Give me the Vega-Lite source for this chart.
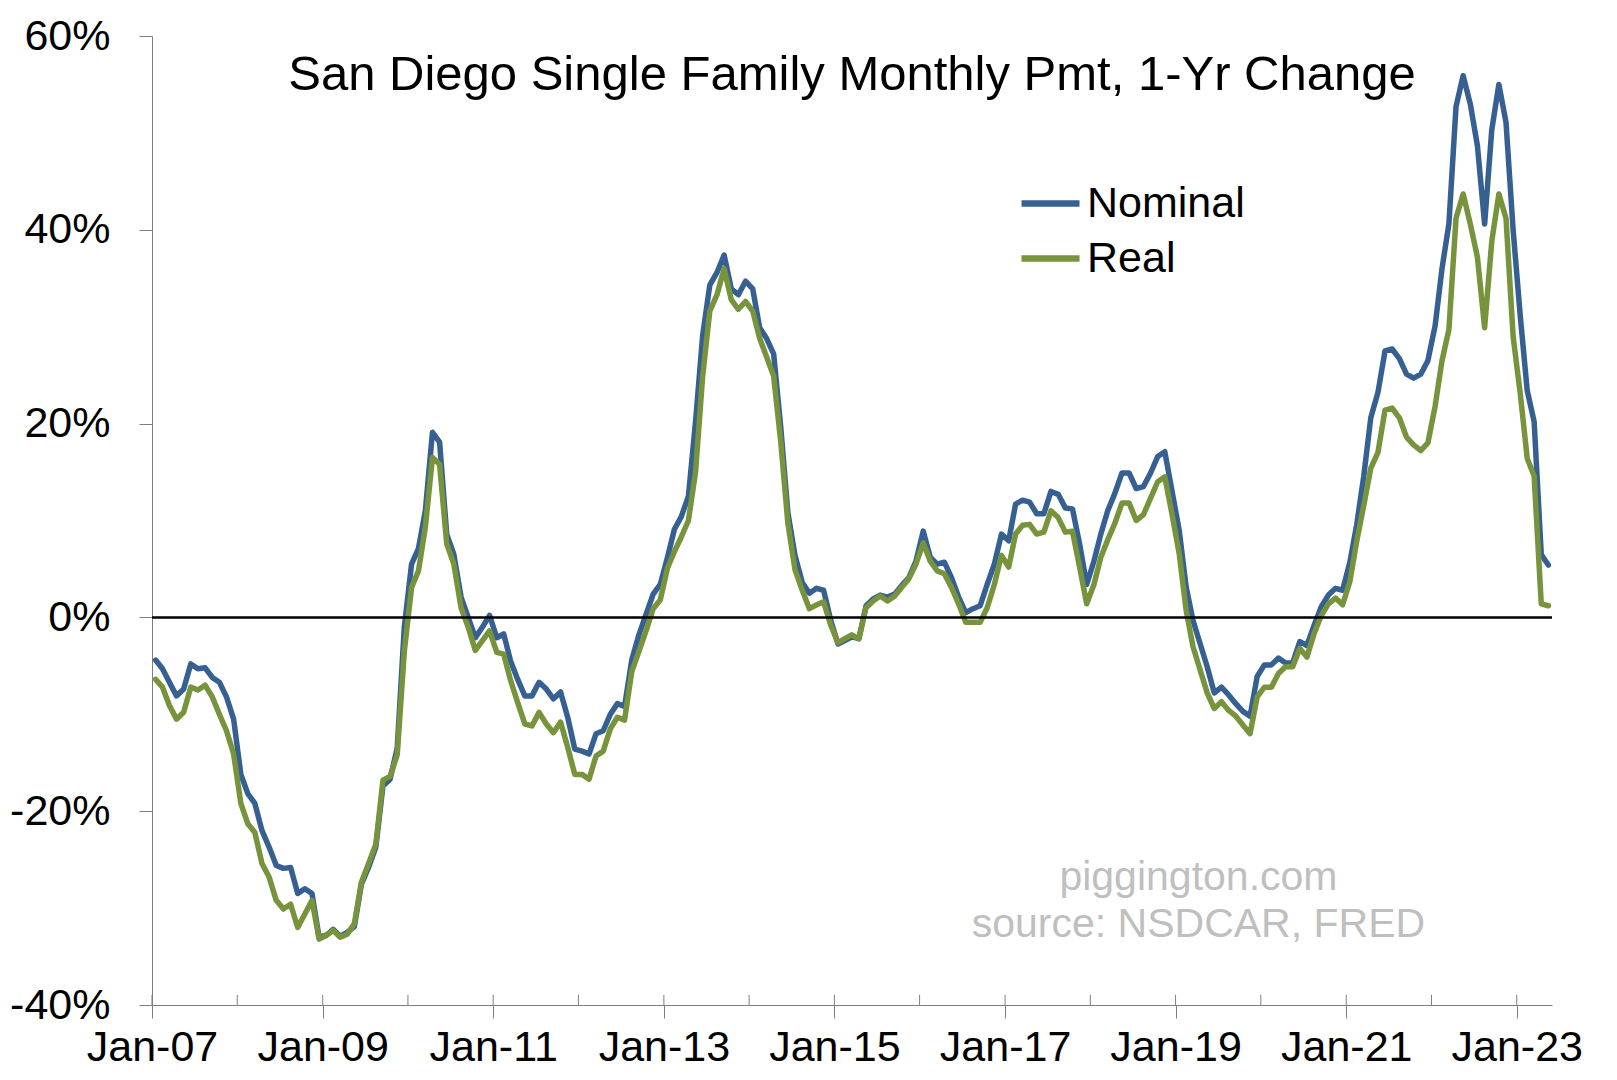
{
  "$schema": "https://vega.github.io/schema/vega-lite/v6.json",
  "width": 1400,
  "height": 969,
  "autosize": {"type": "none"},
  "padding": {"left": 152, "top": 36, "right": 65, "bottom": 75},
  "background": "white",
  "config": {"view": {"stroke": null}, "font": "Liberation Sans"},
  "title": {
    "text": "San Diego Single Family Monthly Pmt, 1-Yr Change",
    "font": "Liberation Sans",
    "fontSize": 49,
    "fontWeight": "normal",
    "color": "black",
    "anchor": "middle",
    "baseline": "alphabetic",
    "offset": -124
  },
  "datasets": {
    "pmt": [
      {"date":"2007-01","Nominal":-4.4,"Real":-6.4},{"date":"2007-02","Nominal":-5.3,"Real":-7.2},{"date":"2007-03","Nominal":-6.7,"Real":-9.1},{"date":"2007-04","Nominal":-8.1,"Real":-10.5},{"date":"2007-05","Nominal":-7.4,"Real":-9.8},{"date":"2007-06","Nominal":-4.8,"Real":-7.2},{"date":"2007-07","Nominal":-5.3,"Real":-7.5},{"date":"2007-08","Nominal":-5.2,"Real":-7.0},{"date":"2007-09","Nominal":-6.2,"Real":-8.2},{"date":"2007-10","Nominal":-6.7,"Real":-10.0},{"date":"2007-11","Nominal":-8.2,"Real":-11.7},{"date":"2007-12","Nominal":-10.5,"Real":-14.1},
      {"date":"2008-01","Nominal":-16.2,"Real":-19.2},{"date":"2008-02","Nominal":-18.2,"Real":-21.3},{"date":"2008-03","Nominal":-19.2,"Real":-22.2},{"date":"2008-04","Nominal":-22.0,"Real":-25.4},{"date":"2008-05","Nominal":-23.7,"Real":-26.8},{"date":"2008-06","Nominal":-25.6,"Real":-29.2},{"date":"2008-07","Nominal":-25.9,"Real":-30.1},{"date":"2008-08","Nominal":-25.8,"Real":-29.6},{"date":"2008-09","Nominal":-28.5,"Real":-32.0},{"date":"2008-10","Nominal":-28.0,"Real":-30.6},{"date":"2008-11","Nominal":-28.5,"Real":-29.2},{"date":"2008-12","Nominal":-33.0,"Real":-33.2},
      {"date":"2009-01","Nominal":-32.8,"Real":-32.8},{"date":"2009-02","Nominal":-32.2,"Real":-32.3},{"date":"2009-03","Nominal":-32.9,"Real":-33.0},{"date":"2009-04","Nominal":-32.5,"Real":-32.7},{"date":"2009-05","Nominal":-31.9,"Real":-31.6},{"date":"2009-06","Nominal":-27.5,"Real":-27.3},{"date":"2009-07","Nominal":-25.8,"Real":-25.4},{"date":"2009-08","Nominal":-23.7,"Real":-23.4},{"date":"2009-09","Nominal":-17.4,"Real":-16.8},{"date":"2009-10","Nominal":-16.7,"Real":-16.4},{"date":"2009-11","Nominal":-13.5,"Real":-14.2},{"date":"2009-12","Nominal":-1.0,"Real":-3.5},
      {"date":"2010-01","Nominal":5.5,"Real":3.1},{"date":"2010-02","Nominal":7.1,"Real":4.8},{"date":"2010-03","Nominal":11.0,"Real":9.3},{"date":"2010-04","Nominal":19.1,"Real":16.5},{"date":"2010-05","Nominal":18.1,"Real":15.8},{"date":"2010-06","Nominal":8.6,"Real":7.6},{"date":"2010-07","Nominal":6.5,"Real":5.5},{"date":"2010-08","Nominal":2.1,"Real":1.0},{"date":"2010-09","Nominal":0.0,"Real":-1.0},{"date":"2010-10","Nominal":-2.1,"Real":-3.4},{"date":"2010-11","Nominal":-1.0,"Real":-2.4},{"date":"2010-12","Nominal":0.2,"Real":-1.4},
      {"date":"2011-01","Nominal":-2.1,"Real":-3.6},{"date":"2011-02","Nominal":-1.7,"Real":-3.8},{"date":"2011-03","Nominal":-4.5,"Real":-6.5},{"date":"2011-04","Nominal":-6.4,"Real":-8.8},{"date":"2011-05","Nominal":-8.1,"Real":-11.0},{"date":"2011-06","Nominal":-8.1,"Real":-11.2},{"date":"2011-07","Nominal":-6.7,"Real":-9.8},{"date":"2011-08","Nominal":-7.4,"Real":-11.0},{"date":"2011-09","Nominal":-8.4,"Real":-11.9},{"date":"2011-10","Nominal":-7.7,"Real":-10.8},{"date":"2011-11","Nominal":-10.3,"Real":-13.4},{"date":"2011-12","Nominal":-13.6,"Real":-16.2},
      {"date":"2012-01","Nominal":-13.8,"Real":-16.2},{"date":"2012-02","Nominal":-14.1,"Real":-16.7},{"date":"2012-03","Nominal":-12.0,"Real":-14.3},{"date":"2012-04","Nominal":-11.7,"Real":-13.8},{"date":"2012-05","Nominal":-10.0,"Real":-11.5},{"date":"2012-06","Nominal":-8.9,"Real":-10.3},{"date":"2012-07","Nominal":-9.2,"Real":-10.6},{"date":"2012-08","Nominal":-4.4,"Real":-5.6},{"date":"2012-09","Nominal":-1.8,"Real":-3.5},{"date":"2012-10","Nominal":0.3,"Real":-1.4},{"date":"2012-11","Nominal":2.4,"Real":0.9},{"date":"2012-12","Nominal":3.4,"Real":1.8},
      {"date":"2013-01","Nominal":6.2,"Real":5.1},{"date":"2013-02","Nominal":9.1,"Real":6.8},{"date":"2013-03","Nominal":10.4,"Real":8.3},{"date":"2013-04","Nominal":12.5,"Real":10.0},{"date":"2013-05","Nominal":20.2,"Real":15.0},{"date":"2013-06","Nominal":29.1,"Real":24.9},{"date":"2013-07","Nominal":34.3,"Real":31.6},{"date":"2013-08","Nominal":35.6,"Real":33.3},{"date":"2013-09","Nominal":37.4,"Real":36.0},{"date":"2013-10","Nominal":33.9,"Real":32.8},{"date":"2013-11","Nominal":33.3,"Real":31.8},{"date":"2013-12","Nominal":34.7,"Real":32.6},
      {"date":"2014-01","Nominal":33.9,"Real":31.6},{"date":"2014-02","Nominal":29.9,"Real":28.8},{"date":"2014-03","Nominal":28.8,"Real":26.9},{"date":"2014-04","Nominal":27.2,"Real":24.9},{"date":"2014-05","Nominal":19.6,"Real":18.1},{"date":"2014-06","Nominal":10.8,"Real":9.7},{"date":"2014-07","Nominal":6.4,"Real":4.9},{"date":"2014-08","Nominal":3.6,"Real":2.8},{"date":"2014-09","Nominal":2.5,"Real":0.9},{"date":"2014-10","Nominal":3.0,"Real":1.3},{"date":"2014-11","Nominal":2.8,"Real":1.6},{"date":"2014-12","Nominal":-0.3,"Real":-0.8},
      {"date":"2015-01","Nominal":-2.75,"Real":-2.6},{"date":"2015-02","Nominal":-2.4,"Real":-2.2},{"date":"2015-03","Nominal":-2.0,"Real":-1.8},{"date":"2015-04","Nominal":-2.2,"Real":-2.2},{"date":"2015-05","Nominal":1.2,"Real":1.0},{"date":"2015-06","Nominal":1.9,"Real":1.7},{"date":"2015-07","Nominal":2.3,"Real":2.2},{"date":"2015-08","Nominal":2.1,"Real":1.7},{"date":"2015-09","Nominal":2.4,"Real":2.2},{"date":"2015-10","Nominal":3.3,"Real":3.1},{"date":"2015-11","Nominal":4.1,"Real":4.0},{"date":"2015-12","Nominal":5.8,"Real":5.5},
      {"date":"2016-01","Nominal":8.9,"Real":7.7},{"date":"2016-02","Nominal":6.2,"Real":5.8},{"date":"2016-03","Nominal":5.5,"Real":4.8},{"date":"2016-04","Nominal":5.7,"Real":4.5},{"date":"2016-05","Nominal":4.1,"Real":3.1},{"date":"2016-06","Nominal":2.1,"Real":1.4},{"date":"2016-07","Nominal":0.5,"Real":-0.5},{"date":"2016-08","Nominal":0.9,"Real":-0.5},{"date":"2016-09","Nominal":1.2,"Real":-0.5},{"date":"2016-10","Nominal":3.4,"Real":1.0},{"date":"2016-11","Nominal":5.5,"Real":3.4},{"date":"2016-12","Nominal":8.6,"Real":6.4},
      {"date":"2017-01","Nominal":7.9,"Real":5.2},{"date":"2017-02","Nominal":11.7,"Real":8.6},{"date":"2017-03","Nominal":12.1,"Real":9.5},{"date":"2017-04","Nominal":11.9,"Real":9.6},{"date":"2017-05","Nominal":10.7,"Real":8.6},{"date":"2017-06","Nominal":10.7,"Real":8.8},{"date":"2017-07","Nominal":13.0,"Real":11.0},{"date":"2017-08","Nominal":12.7,"Real":10.3},{"date":"2017-09","Nominal":11.3,"Real":8.8},{"date":"2017-10","Nominal":11.2,"Real":8.9},{"date":"2017-11","Nominal":7.6,"Real":5.2},{"date":"2017-12","Nominal":3.4,"Real":1.4},
      {"date":"2018-01","Nominal":5.8,"Real":3.4},{"date":"2018-02","Nominal":8.6,"Real":6.2},{"date":"2018-03","Nominal":11.0,"Real":8.0},{"date":"2018-04","Nominal":12.8,"Real":9.7},{"date":"2018-05","Nominal":14.9,"Real":11.8},{"date":"2018-06","Nominal":14.9,"Real":11.8},{"date":"2018-07","Nominal":13.3,"Real":10.0},{"date":"2018-08","Nominal":13.5,"Real":10.6},{"date":"2018-09","Nominal":14.9,"Real":12.3},{"date":"2018-10","Nominal":16.6,"Real":14.0},{"date":"2018-11","Nominal":17.1,"Real":14.5},{"date":"2018-12","Nominal":13.1,"Real":10.7},
      {"date":"2019-01","Nominal":9.0,"Real":6.6},{"date":"2019-02","Nominal":3.2,"Real":0.8},{"date":"2019-03","Nominal":-0.3,"Real":-3.0},{"date":"2019-04","Nominal":-2.7,"Real":-5.4},{"date":"2019-05","Nominal":-5.1,"Real":-7.8},{"date":"2019-06","Nominal":-7.8,"Real":-9.4},{"date":"2019-07","Nominal":-7.2,"Real":-8.7},{"date":"2019-08","Nominal":-8.0,"Real":-9.6},{"date":"2019-09","Nominal":-8.9,"Real":-10.2},{"date":"2019-10","Nominal":-9.7,"Real":-11.1},{"date":"2019-11","Nominal":-10.2,"Real":-12.0},{"date":"2019-12","Nominal":-6.1,"Real":-8.2},
      {"date":"2020-01","Nominal":-4.9,"Real":-7.2},{"date":"2020-02","Nominal":-4.9,"Real":-7.2},{"date":"2020-03","Nominal":-4.2,"Real":-5.8},{"date":"2020-04","Nominal":-4.7,"Real":-5.1},{"date":"2020-05","Nominal":-4.7,"Real":-5.1},{"date":"2020-06","Nominal":-2.5,"Real":-3.2},{"date":"2020-07","Nominal":-2.9,"Real":-4.1},{"date":"2020-08","Nominal":-0.8,"Real":-1.65},{"date":"2020-09","Nominal":1.1,"Real":0.2},{"date":"2020-10","Nominal":2.3,"Real":1.4},{"date":"2020-11","Nominal":3.0,"Real":2.0},{"date":"2020-12","Nominal":2.8,"Real":1.3},
      {"date":"2021-01","Nominal":5.7,"Real":3.7},{"date":"2021-02","Nominal":9.6,"Real":7.9},{"date":"2021-03","Nominal":14.5,"Real":11.5},{"date":"2021-04","Nominal":20.6,"Real":15.4},{"date":"2021-05","Nominal":23.2,"Real":17.0},{"date":"2021-06","Nominal":27.5,"Real":21.4},{"date":"2021-07","Nominal":27.7,"Real":21.6},{"date":"2021-08","Nominal":26.7,"Real":20.6},{"date":"2021-09","Nominal":25.1,"Real":18.6},{"date":"2021-10","Nominal":24.7,"Real":17.8},{"date":"2021-11","Nominal":25.1,"Real":17.2},{"date":"2021-12","Nominal":26.5,"Real":18.0},
      {"date":"2022-01","Nominal":30.1,"Real":21.8},{"date":"2022-02","Nominal":36.0,"Real":26.5},{"date":"2022-03","Nominal":40.6,"Real":29.7},{"date":"2022-04","Nominal":52.7,"Real":41.2},{"date":"2022-05","Nominal":55.9,"Real":43.7},{"date":"2022-06","Nominal":53.0,"Real":40.6},{"date":"2022-07","Nominal":48.7,"Real":37.2},{"date":"2022-08","Nominal":40.6,"Real":29.9},{"date":"2022-09","Nominal":50.3,"Real":38.8},{"date":"2022-10","Nominal":55.0,"Real":43.7},{"date":"2022-11","Nominal":51.1,"Real":41.2},{"date":"2022-12","Nominal":40.0,"Real":29.0},
      {"date":"2023-01","Nominal":31.0,"Real":23.0},{"date":"2023-02","Nominal":23.4,"Real":16.4},{"date":"2023-03","Nominal":20.2,"Real":14.6},{"date":"2023-04","Nominal":6.5,"Real":1.4},{"date":"2023-05","Nominal":5.4,"Real":1.2}
    ],
    "years": [
      {"t":"2007-01-01"},{"t":"2008-01-01"},{"t":"2009-01-01"},{"t":"2010-01-01"},{"t":"2011-01-01"},{"t":"2012-01-01"},{"t":"2013-01-01"},{"t":"2014-01-01"},{"t":"2015-01-01"},{"t":"2016-01-01"},{"t":"2017-01-01"},{"t":"2018-01-01"},{"t":"2019-01-01"},{"t":"2020-01-01"},{"t":"2021-01-01"},{"t":"2022-01-01"},{"t":"2023-01-01"}
    ]
  },
  "layer": [
    {
      "data": {"name": "pmt"},
      "transform": [{"fold": ["Nominal", "Real"], "as": ["series", "value"]}],
      "mark": {"type": "line", "strokeWidth": 5.5, "strokeJoin": "round", "strokeCap": "round"},
      "encoding": {
        "x": {
          "field": "date",
          "type": "temporal",
          "timeUnit": "utcyearmonth",
          "bandPosition": 0.5,
          "scale": {"domain": [{"year": 2007, "month": 1, "date": 1, "utc": true}, {"year": 2023, "month": 6, "date": 1, "utc": true}]},
          "axis": {
            "title": null,
            "values": [
              {"year": 2007, "month": 1, "date": 1, "utc": true},
              {"year": 2009, "month": 1, "date": 1, "utc": true},
              {"year": 2011, "month": 1, "date": 1, "utc": true},
              {"year": 2013, "month": 1, "date": 1, "utc": true},
              {"year": 2015, "month": 1, "date": 1, "utc": true},
              {"year": 2017, "month": 1, "date": 1, "utc": true},
              {"year": 2019, "month": 1, "date": 1, "utc": true},
              {"year": 2021, "month": 1, "date": 1, "utc": true},
              {"year": 2023, "month": 1, "date": 1, "utc": true}
            ],
            "format": "%b-%y",
            "grid": false,
            "tickSize": 13,
            "tickColor": "#7f7f7f",
            "domainColor": "#7f7f7f",
            "labelFont": "Liberation Sans",
            "labelFontSize": 43,
            "labelColor": "black",
            "labelPadding": 8,
            "labelFlush": false,
            "labelOverlap": false
          }
        },
        "y": {
          "field": "value",
          "type": "quantitative",
          "scale": {"domain": [-40, 60], "nice": false, "zero": false},
          "axis": {
            "title": null,
            "values": [-40, -20, 0, 20, 40, 60],
            "labelExpr": "datum.value + '%'",
            "grid": false,
            "tickSize": 13,
            "tickColor": "#7f7f7f",
            "domainColor": "#7f7f7f",
            "labelFont": "Liberation Sans",
            "labelFontSize": 43,
            "labelColor": "black",
            "labelPadding": 29
          }
        },
        "color": {
          "field": "series",
          "type": "nominal",
          "scale": {"domain": ["Nominal", "Real"], "range": ["#366092", "#77933C"]},
          "legend": {
            "title": null,
            "orient": "none",
            "legendX": 866,
            "legendY": 135,
            "symbolType": "stroke",
            "symbolSize": 3364,
            "symbolStrokeWidth": 6.5,
            "labelFont": "Liberation Sans",
            "labelFontSize": 43,
            "labelColor": "black",
            "labelOffset": 4,
            "rowPadding": 0,
            "padding": 0
          }
        }
      }
    },
    {
      "data": {"values": [{}]},
      "mark": {"type": "rule", "color": "black", "strokeWidth": 2.5},
      "encoding": {"y": {"datum": 0, "type": "quantitative"}}
    },
    {
      "data": {"name": "years"},
      "mark": {"type": "rule", "color": "#7f7f7f", "strokeWidth": 1},
      "encoding": {
        "x": {"field": "t", "type": "temporal"},
        "y": {"datum": -40, "type": "quantitative"},
        "y2": {"datum": -38.95}
      }
    },
    {
      "data": {"values": [{}]},
      "mark": {
        "type": "text",
        "text": ["piggington.com", "source: NSDCAR, FRED"],
        "font": "Liberation Sans",
        "fontSize": 41,
        "color": "#bfbfbf",
        "align": "center",
        "baseline": "alphabetic",
        "lineHeight": 47
      },
      "encoding": {
        "x": {"datum": {"year": 2019, "month": 4, "date": 9, "utc": true}, "type": "temporal"},
        "y": {"datum": -28.1, "type": "quantitative"}
      }
    }
  ]
}
